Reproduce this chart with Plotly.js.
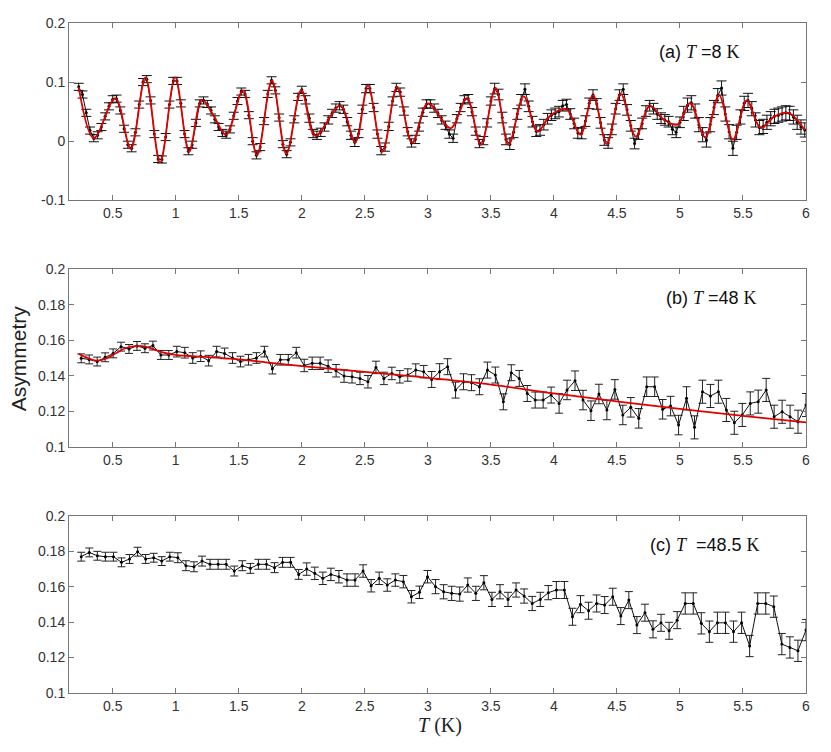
<!DOCTYPE html>
<html>
<head>
<meta charset="utf-8">
<script src="https://cdn.plot.ly/plotly-3.0.1.min.js"></script>
<style>html,body{margin:0;padding:0;background:#fff;}#chart{width:831px;height:752px;}</style>
</head>
<body>
<div id="chart"></div>
<script>
// ---------- Panel (a) T = 8 K : data (time bins start 0.23, step 0.03) ----------
const aStart = 0.23, aStep = 0.03;
const dataA = [
 0.092, 0.079, 0.048, 0.018, 0.005, 0.010, 0.024, 0.042, 0.059, 0.071,
 0.072, 0.052, 0.021, -0.006, -0.012, 0.015, 0.062, 0.100, 0.105, 0.069,
 0.012, -0.030, -0.031, 0.007, 0.062, 0.102, 0.102, 0.064, 0.012, -0.017,
 -0.006, 0.031, 0.064, 0.069, 0.063, 0.052, 0.037, 0.024, 0.014, 0.011,
 0.020, 0.043, 0.068, 0.084, 0.080, 0.044, 0.000, -0.024, -0.010, 0.034,
 0.080, 0.103, 0.086, 0.040, -0.005, -0.022, -0.002, 0.037, 0.075, 0.087,
 0.070, 0.039, 0.013, 0.010, 0.015, 0.024, 0.036, 0.047, 0.056, 0.060,
 0.054, 0.033, 0.010, -0.002, 0.013, 0.054, 0.089, 0.089, 0.057, 0.012,
 -0.016, -0.010, 0.025, 0.068, 0.091, 0.083, 0.051, 0.016, -0.003, 0.003,
 0.024, 0.049, 0.063, 0.063, 0.056, 0.047, 0.036, 0.027, 0.012, 0.005,
 0.038, 0.057, 0.070, 0.072, 0.050, 0.017, -0.004, 0.001, 0.031, 0.068,
 0.089, 0.079, 0.040, 0.003, -0.005, 0.015, 0.046, 0.070, 0.088, 0.059,
 0.033, 0.017, 0.019, 0.028, 0.038, 0.044, 0.047, 0.050, 0.060, 0.062,
 0.046, 0.030, 0.014, 0.013, 0.034, 0.064, 0.078, 0.063, 0.031, 0.002,
 -0.003, 0.020, 0.055, 0.078, 0.088, 0.053, 0.026, -0.004, 0.012, 0.030,
 0.051, 0.060, 0.055, 0.046, 0.039, 0.036, 0.033, 0.020, 0.015, 0.032,
 0.047, 0.061, 0.065, 0.051, 0.028, 0.011, 0.002, 0.028, 0.057, 0.077,
 0.090, 0.046, 0.016, -0.012, 0.015, 0.041, 0.064, 0.069, 0.055, 0.036,
 0.023, 0.025, 0.032, 0.038, 0.042, 0.044, 0.046, 0.048, 0.047, 0.041,
 0.032, 0.024, 0.019
];
// error half-widths of (a) by time range [upper bound, error]
const errRangesA = [[2.0, 0.006], [3.5, 0.007], [5.0, 0.009], [6.1, 0.012]];

// Fit curve (a): turning points
const fitAx = [0.23,0.35,0.52,0.643,0.759,0.876,0.995,1.106,1.207,1.30,1.40,1.533,1.644,1.763,1.877,1.996,2.107,2.305,2.424,2.525,2.64,2.756,2.875,3.0,3.18,3.31,3.42,3.537,3.64,3.76,3.87,3.97,4.10,4.21,4.31,4.42,4.53,4.65,4.76,4.87,4.98,5.08,5.20,5.31,5.42,5.53,5.64,5.75,5.86,5.99];
const fitAy = [0.0915,0.005,0.073,-0.013,0.108,-0.036,0.108,-0.018,0.070,0.043,0.011,0.086,-0.024,0.103,-0.022,0.087,0.009,0.060,-0.002,0.094,-0.018,0.092,-0.003,0.064,0.022,0.073,-0.006,0.090,-0.006,0.076,0.016,0.043,0.054,0.011,0.078,-0.005,0.080,0.008,0.060,0.037,0.028,0.065,0.007,0.078,0.003,0.069,0.022,0.042,0.048,0.019];

// ---------- Panel (b) T = 48 K ----------
const bStart = 0.25, bEnd = 6.0;
const dataB = [
 0.1498, 0.1492, 0.1480, 0.1504, 0.1526, 0.1564, 0.1551, 0.1568, 0.1555, 0.1570,
 0.1517, 0.1517, 0.1536, 0.1530, 0.1500, 0.1510, 0.1485, 0.1536, 0.1526, 0.1500,
 0.1480, 0.1490, 0.1500, 0.1536, 0.1440, 0.1490, 0.1490, 0.1530, 0.1458, 0.1470,
 0.1470, 0.1454, 0.1428, 0.1398, 0.1394, 0.1385, 0.1366, 0.1447, 0.1385, 0.1413,
 0.1394, 0.1404, 0.1432, 0.1423, 0.1379, 0.1423, 0.1451, 0.1319, 0.1366, 0.1361,
 0.1338, 0.1432, 0.1404, 0.1253, 0.1417, 0.1385, 0.1300, 0.1263, 0.1263, 0.1291,
 0.1244, 0.1320, 0.1372, 0.1263, 0.1203, 0.1297, 0.1207, 0.1323, 0.1179, 0.1222,
 0.1160, 0.1338, 0.1338, 0.1211, 0.1229, 0.1122, 0.1273, 0.1109, 0.1310, 0.1286,
 0.1310, 0.1207, 0.1135, 0.1179, 0.1244, 0.1254, 0.1320, 0.1169, 0.1197, 0.1169,
 0.1141, 0.1235
];
const errRangesB = [[1.0, 0.0025], [2.0, 0.003], [3.0, 0.0035], [4.0, 0.0045], [5.0, 0.0055], [6.1, 0.0065]];
const fitBx = [0.23,0.30,0.37,0.45,0.52,0.60,0.69,0.78,0.88,1.0,1.25,1.5,1.75,2.0,2.5,3.0,3.5,4.0,4.5,5.0,5.5,6.0];
const fitBy = [0.1523,0.1500,0.1485,0.1497,0.1525,0.1555,0.1568,0.1560,0.1535,0.1517,0.1505,0.1492,0.1473,0.1454,0.1422,0.1388,0.1350,0.1300,0.1255,0.1213,0.1174,0.1137];

// ---------- Panel (c) T = 48.5 K ----------
const cStart = 0.25, cEnd = 6.0;
const dataC = [
 0.1769, 0.1793, 0.1774, 0.1769, 0.1769, 0.1737, 0.1756, 0.1797, 0.1756, 0.1763,
 0.1744, 0.1769, 0.1763, 0.1718, 0.1712, 0.1744, 0.1726, 0.1726, 0.1726, 0.1688,
 0.1718, 0.1703, 0.1726, 0.1726, 0.1707, 0.1737, 0.1737, 0.1669, 0.1699, 0.1675,
 0.1647, 0.1669, 0.1656, 0.1637, 0.1637, 0.1688, 0.1605, 0.1647, 0.1609, 0.1637,
 0.1628, 0.1543, 0.1568, 0.1656, 0.1600,
 0.1571, 0.1562, 0.1558, 0.1609, 0.1562, 0.1622, 0.1528, 0.1571, 0.1528, 0.1581,
 0.1547, 0.1505, 0.1528, 0.1566, 0.1581, 0.1581, 0.1430, 0.1501, 0.1464, 0.1505,
 0.1496, 0.1543, 0.1434, 0.1524, 0.1383, 0.1453, 0.1359, 0.1396, 0.1351, 0.1411,
 0.1505, 0.1505, 0.1393, 0.1346, 0.1396, 0.1396, 0.1346, 0.1396, 0.1265, 0.1505,
 0.1505, 0.1487, 0.1276, 0.1257, 0.1238, 0.1355
];
const errRangesC = [[1.0, 0.0025], [2.0, 0.0028], [3.0, 0.0035], [4.0, 0.004], [5.0, 0.0048], [6.1, 0.006]];

// tick labels
const xTickVals = [0.5,1,1.5,2,2.5,3,3.5,4,4.5,5,5.5,6];
const xTickText = ['0.5','1','1.5','2','2.5','3','3.5','4','4.5','5','5.5','6'];
const yTickValsA = [-0.1,0,0.1,0.2];
const yTickTextA = ['-0.1','0','0.1','0.2'];
const yTickValsBC = [0.1,0.12,0.14,0.16,0.18,0.2];
const yTickTextBC = ['0.1','0.12','0.14','0.16','0.18','0.2'];

// ---------- build ----------
function gridStep(start, step, n){ const o=[]; for(let i=0;i<n;i++) o.push(+(start+i*step).toFixed(4)); return o; }
function gridSpan(start, end, n){ const s=(end-start)/(n-1); return gridStep(start, s, n); }
function errFor(xs, ranges){ return xs.map(x => { for (const r of ranges) if (x <= r[0]) return r[1]; return ranges[ranges.length-1][1]; }); }

const xA = gridStep(aStart, aStep, dataA.length);
const xB = gridSpan(bStart, bEnd, dataB.length);
const xC = gridSpan(cStart, cEnd, dataC.length);

const ser = "Liberation Serif, Times New Roman, serif";
const sans = "Liberation Sans, Arial, sans-serif";

function dataTrace(x, y, err, xa, ya, capw, ecol){
  return {x:x, y:y, xaxis:xa, yaxis:ya, type:'scatter', mode:'lines+markers',
    line:{color:'#111', width:1}, marker:{color:'#000', size:3},
    error_y:{type:'data', array:err, visible:true, color:ecol, thickness:1, width:capw},
    showlegend:false, hoverinfo:'skip'};
}
function fitTrace(x, y, xa, ya){
  return {x:x, y:y, xaxis:xa, yaxis:ya, type:'scatter', mode:'lines',
    line:{color:'#e00000', width:1.8, shape:'spline', smoothing:1}, showlegend:false, hoverinfo:'skip'};
}

const traces = [
  dataTrace(xA, dataA, errFor(xA, errRangesA), 'x', 'y', 5, '#111'),
  fitTrace(fitAx, fitAy, 'x', 'y'),
  dataTrace(xB, dataB, errFor(xB, errRangesB), 'x2', 'y2', 4, '#222'),
  fitTrace(fitBx, fitBy, 'x2', 'y2'),
  dataTrace(xC, dataC, errFor(xC, errRangesC), 'x3', 'y3', 4, '#222')
];

function xax(anchor){
  return {anchor:anchor, range:[0.153, 6.0], tickvals:xTickVals, ticktext:xTickText,
    ticks:'inside', ticklen:5, tickcolor:'#777', showline:true, linecolor:'#777', linewidth:1,
    mirror:'ticks', showgrid:false, zeroline:false, tickfont:{family:sans, size:14, color:'#333'}};
}
function yax(anchor, dom, rng, tv, tt){
  return {anchor:anchor, domain:dom, range:rng, tickvals:tv, ticktext:tt,
    ticks:'inside', ticklen:5, tickcolor:'#777', showline:true, linecolor:'#777', linewidth:1,
    mirror:'ticks', showgrid:false, zeroline:false, tickfont:{family:sans, size:14, color:'#333'}};
}

const layout = {
  width:831, height:752,
  margin:{l:69, r:25, t:23, b:59},
  paper_bgcolor:'#fff', plot_bgcolor:'#fff',
  xaxis: xax('y'), xaxis2: xax('y2'), xaxis3: xax('y3'),
  yaxis: yax('x', [0.7354, 1], [-0.1, 0.2], yTickValsA, yTickTextA),
  yaxis2: yax('x2', [0.3676, 0.6324], [0.1, 0.2], yTickValsBC, yTickTextBC),
  yaxis3: yax('x3', [0, 0.2646], [0.1, 0.2], yTickValsBC, yTickTextBC),
  annotations:[
    {xref:'paper', yref:'paper', x:0.798, y:0.957, xanchor:'left', yanchor:'middle', showarrow:false,
     font:{family:sans, size:18, color:'#111'},
     text:'(a) <span style="font-family:Liberation Serif"><i>T</i></span> =8 <span style="font-family:Liberation Serif">K</span>'},
    {xref:'paper', yref:'paper', x:0.807, y:0.590, xanchor:'left', yanchor:'middle', showarrow:false,
     font:{family:sans, size:18, color:'#111'},
     text:'(b) <span style="font-family:Liberation Serif"><i>T</i></span> =48 <span style="font-family:Liberation Serif">K</span>'},
    {xref:'paper', yref:'paper', x:0.786, y:0.221, xanchor:'left', yanchor:'middle', showarrow:false,
     font:{family:sans, size:18, color:'#111'},
     text:'(c) <span style="font-family:Liberation Serif"><i>T</i></span>  =48.5 <span style="font-family:Liberation Serif">K</span>'},
    {xref:'paper', yref:'paper', x:-0.069, y:0.5, xanchor:'center', yanchor:'middle', showarrow:false,
     textangle:-90, font:{family:sans, size:21, color:'#222'}, text:'Asymmetry'},
    {xref:'paper', yref:'paper', x:0.503, y:-0.049, xanchor:'center', yanchor:'middle', showarrow:false,
     font:{family:ser, size:20, color:'#222'}, text:'<i>T</i> (K)'}
  ]
};

Plotly.newPlot('chart', traces, layout, {staticPlot:true, displayModeBar:false});
</script>
</body>
</html>
